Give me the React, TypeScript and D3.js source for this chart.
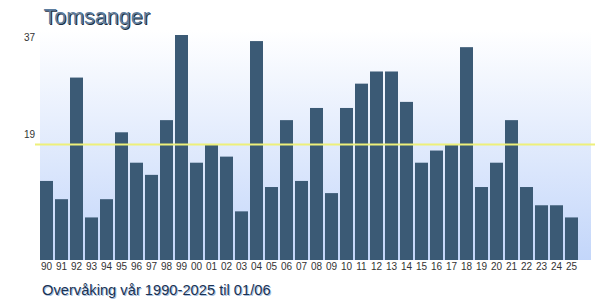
import React from "react";
import * as d3 from "d3";

const years = ["90","91","92","93","94","95","96","97","98","99","00","01","02","03","04","05","06","07","08","09","10","11","12","13","14","15","16","17","18","19","20","21","22","23","24","25"];
const counts = [13,10,30,7,10,21,16,14,23,37,16,19,17,8,36,12,23,13,25,11,25,29,31,31,26,16,18,19,35,12,16,23,12,9,9,7];
const yTickLabels = [37, 19];
const meanValue = 19;
const title = "Tomsanger";
const subtitle = "Overvåking vår 1990-2025 til 01/06";

export default function App() {
  const W = 600, H = 300;
  const x = d3.scaleBand<string>().domain(years).range([40, 578]).paddingInner(2 / 15).paddingOuter(0);
  const y = d3.scaleLinear().domain([0, 37]).range([260, 35]);
  const font = "Arial, 'Liberation Sans', sans-serif";
  return (
    <svg width={W} height={H} style={{ position: "absolute", left: 0, top: 0, display: "block" }}>
      <defs>
        <linearGradient id="bg" x1="0" y1="0" x2="0" y2="1">
          <stop offset="0" stopColor="#ffffff" />
          <stop offset="1" stopColor="#c3d6fa" />
        </linearGradient>
      </defs>
      <rect x={0} y={0} width={W} height={H} fill="#ffffff" />
      <rect x={40} y={30} width={551} height={230} fill="url(#bg)" />
      {years.map((yr, i) => (
        <rect key={yr} x={x(yr)} y={y(counts[i])} width={x.bandwidth()} height={y(0) - y(counts[i])} fill="#3b5a75" />
      ))}
      <line x1={35} x2={595} y1={y(meanValue)} y2={y(meanValue)} stroke="#eef07a" strokeWidth={2} />
      {years.map((yr) => (
        <text key={"t" + yr} x={(x(yr) as number) + x.bandwidth() / 2} y={269.5} fontSize={10} fontFamily={font} fill="#333" textAnchor="middle">{yr}</text>
      ))}
      <text x={35} y={40.5} fontSize={10} fontFamily={font} fill="#333" textAnchor="end">{yTickLabels[0]}</text>
      <text x={35} y={137.5} fontSize={10} fontFamily={font} fill="#333" textAnchor="end">{yTickLabels[1]}</text>
      <text x={44.5} y={24.5} fontSize={21.5} fontFamily={font} fill="#1e2e40">{title}</text>
      <text x={43.5} y={23.5} fontSize={21.5} fontFamily={font} fill="#5d7d9e">{title}</text>
      <text x={43} y={296} fontSize={14.7} fontFamily={font} fill="#a8c0e0">{subtitle}</text>
      <text x={42} y={295} fontSize={14.7} fontFamily={font} fill="#1b3352">{subtitle}</text>
    </svg>
  );
}
